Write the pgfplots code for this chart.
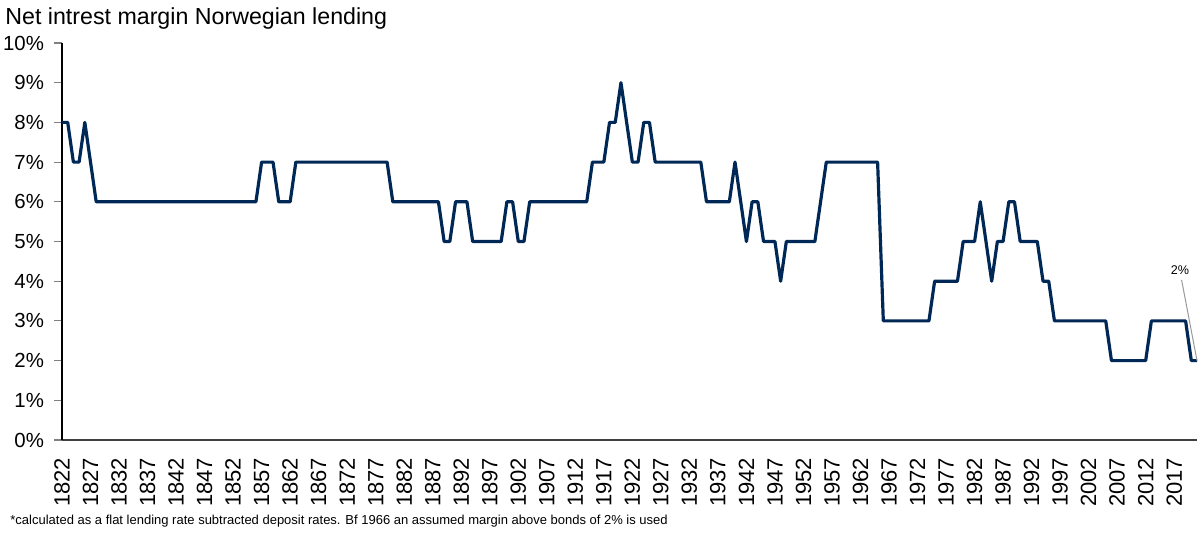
\documentclass[border=0pt]{standalone}
\usepackage{pgfplots}
\pgfplotsset{compat=1.18}
\usepackage{fontspec}
\setmainfont{Liberation Sans}
\definecolor{navy}{RGB}{0,40,86}
\begin{document}
\begin{tikzpicture}
\useasboundingbox (-31bp,-47.5bp) rectangle (569bp,220bp);
\begin{axis}[
  scale only axis,
  width=567.5bp, height=198.5bp,
  at={(0,0)}, anchor=south west,
  xmin=1822, xmax=2021,
  ymin=0, ymax=10,
  axis x line=bottom, axis y line=left,
  x axis line style={-, draw=black!75, line width=0.8pt},
  y axis line style={-, line width=0.6pt},
  xtick={1822,1827,...,2017},
  xtick style={draw=none},
  ytick={0,1,...,10},
  yticklabels={0\%,1\%,2\%,3\%,4\%,5\%,6\%,7\%,8\%,9\%,10\%},
  tick align=outside,
  major tick length=4bp,
  ytick style={line width=0.6pt},
  /pgf/number format/1000 sep={},
  /pgf/number format/assume math mode=true,
  x tick label style={rotate=90, anchor=east, font=\fontsize{11bp}{13bp}\selectfont, xshift=-1.5bp},
  y tick label style={font=\fontsize{10.2bp}{12bp}\selectfont, xshift=-1.5bp},
  clip=false,
]
\addplot[navy, line width=1.6pt, line join=round] coordinates {
(1822,8)(1823,8)(1824,7)(1825,7)(1826,8)(1827,7)(1828,6)(1829,6)(1830,6)(1831,6)
(1832,6)(1833,6)(1834,6)(1835,6)(1836,6)(1837,6)(1838,6)(1839,6)(1840,6)(1841,6)
(1842,6)(1843,6)(1844,6)(1845,6)(1846,6)(1847,6)(1848,6)(1849,6)(1850,6)(1851,6)
(1852,6)(1853,6)(1854,6)(1855,6)(1856,6)(1857,7)(1858,7)(1859,7)(1860,6)(1861,6)
(1862,6)(1863,7)(1864,7)(1865,7)(1866,7)(1867,7)(1868,7)(1869,7)(1870,7)(1871,7)
(1872,7)(1873,7)(1874,7)(1875,7)(1876,7)(1877,7)(1878,7)(1879,7)(1880,6)(1881,6)
(1882,6)(1883,6)(1884,6)(1885,6)(1886,6)(1887,6)(1888,6)(1889,5)(1890,5)(1891,6)
(1892,6)(1893,6)(1894,5)(1895,5)(1896,5)(1897,5)(1898,5)(1899,5)(1900,6)(1901,6)
(1902,5)(1903,5)(1904,6)(1905,6)(1906,6)(1907,6)(1908,6)(1909,6)(1910,6)(1911,6)
(1912,6)(1913,6)(1914,6)(1915,7)(1916,7)(1917,7)(1918,8)(1919,8)(1920,9)(1921,8)
(1922,7)(1923,7)(1924,8)(1925,8)(1926,7)(1927,7)(1928,7)(1929,7)(1930,7)(1931,7)
(1932,7)(1933,7)(1934,7)(1935,6)(1936,6)(1937,6)(1938,6)(1939,6)(1940,7)(1941,6)
(1942,5)(1943,6)(1944,6)(1945,5)(1946,5)(1947,5)(1948,4)(1949,5)(1950,5)(1951,5)
(1952,5)(1953,5)(1954,5)(1955,6)(1956,7)(1957,7)(1958,7)(1959,7)(1960,7)(1961,7)
(1962,7)(1963,7)(1964,7)(1965,7)(1966,3)(1967,3)(1968,3)(1969,3)(1970,3)(1971,3)
(1972,3)(1973,3)(1974,3)(1975,4)(1976,4)(1977,4)(1978,4)(1979,4)(1980,5)(1981,5)
(1982,5)(1983,6)(1984,5)(1985,4)(1986,5)(1987,5)(1988,6)(1989,6)(1990,5)(1991,5)
(1992,5)(1993,5)(1994,4)(1995,4)(1996,3)(1997,3)(1998,3)(1999,3)(2000,3)(2001,3)
(2002,3)(2003,3)(2004,3)(2005,3)(2006,2)(2007,2)(2008,2)(2009,2)(2010,2)(2011,2)
(2012,2)(2013,3)(2014,3)(2015,3)(2016,3)(2017,3)(2018,3)(2019,3)(2020,2)(2021,2)
};
\draw[black!40, line width=0.5pt] (axis cs:2018.3,4.03) -- (axis cs:2021,2);
\node[font=\fontsize{6.3bp}{7.5bp}\selectfont, inner sep=0pt] at (axis cs:2018,4.27) {2\%};
\end{axis}
\node[anchor=base west, inner sep=0pt, font=\fontsize{11.6bp}{14bp}\selectfont] at (-28.5bp,207.5bp) {Net intrest margin Norwegian lending};
\node[anchor=west, inner sep=0pt, font=\fontsize{6.5bp}{7.8bp}\selectfont] at (-26bp,-40.5bp) {*calculated as a flat lending rate subtracted deposit rates. Bf 1966 an assumed margin above bonds of 2\% is used};
\end{tikzpicture}
\end{document}
